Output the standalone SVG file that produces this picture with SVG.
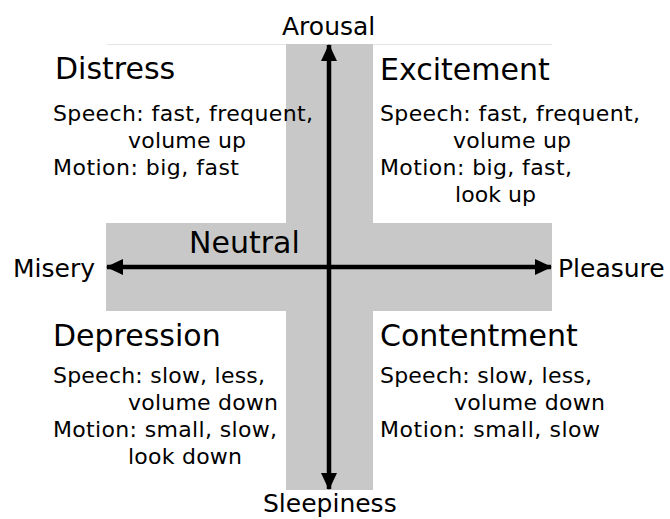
<svg xmlns="http://www.w3.org/2000/svg" width="670" height="519" viewBox="0 0 670 519">
<defs>
<style>
text{font-family:"DejaVu Sans","Verdana",sans-serif;fill:#000}
.title{font-size:30px}
.body{font-size:22px}
.axis{font-size:25px}
.band{fill:#c8c8c8}
.arrow{stroke:#000;stroke-width:4.5;fill:none}
</style>
<marker id="ah" markerUnits="userSpaceOnUse" markerWidth="18" markerHeight="16" refX="16" refY="8" orient="auto-start-reverse" viewBox="0 0 18 16">
<path d="M0,0 L17,8 L0,16 Z" fill="#000"/>
</marker>
</defs>
<rect width="670" height="519" fill="#fff"/>
<g id="background">
<line x1="107" y1="44.5" x2="552" y2="44.5" stroke="#e4e4e4" stroke-width="1"/>
<rect class="band" x="286" y="44" width="87" height="446"/>
<rect class="band" x="106" y="223" width="446" height="88"/>
</g>
<g id="connectors">
<line class="arrow" x1="107" y1="267" x2="551" y2="267" marker-start="url(#ah)" marker-end="url(#ah)"/>
<line class="arrow" x1="329" y1="45" x2="329" y2="489" marker-start="url(#ah)" marker-end="url(#ah)"/>
</g>
<g id="arousal"><text class="axis" x="282" y="35">Arousal</text></g>
<g id="sleepiness"><text class="axis" x="263" y="512">Sleepiness</text></g>
<g id="misery"><text class="axis" x="13" y="277">Misery</text></g>
<g id="pleasure"><text class="axis" x="558" y="277">Pleasure</text></g>
<g id="neutral"><text class="title" x="189" y="253">Neutral</text></g>
<g id="distress">
<text class="title" x="55" y="79">Distress</text>
<text class="body" x="53" y="121" textLength="260">Speech: fast, frequent,</text>
<text class="body" x="128" y="148" textLength="118">volume up</text>
<text class="body" x="53" y="175" textLength="186">Motion: big, fast</text>
</g>
<g id="excitement">
<text class="title" x="380" y="80">Excitement</text>
<text class="body" x="380" y="121" textLength="260">Speech: fast, frequent,</text>
<text class="body" x="453" y="148" textLength="118">volume up</text>
<text class="body" x="380" y="175" textLength="192">Motion: big, fast,</text>
<text class="body" x="455" y="202" textLength="81">look up</text>
</g>
<g id="depression">
<text class="title" x="53" y="346">Depression</text>
<text class="body" x="53" y="383" textLength="212">Speech: slow, less,</text>
<text class="body" x="128" y="410" textLength="150">volume down</text>
<text class="body" x="53" y="437" textLength="224">Motion: small, slow,</text>
<text class="body" x="128" y="464" textLength="114">look down</text>
</g>
<g id="contentment">
<text class="title" x="380" y="346">Contentment</text>
<text class="body" x="380" y="383" textLength="212">Speech: slow, less,</text>
<text class="body" x="454" y="410" textLength="151">volume down</text>
<text class="body" x="380" y="437" textLength="220">Motion: small, slow</text>
</g>
</svg>
